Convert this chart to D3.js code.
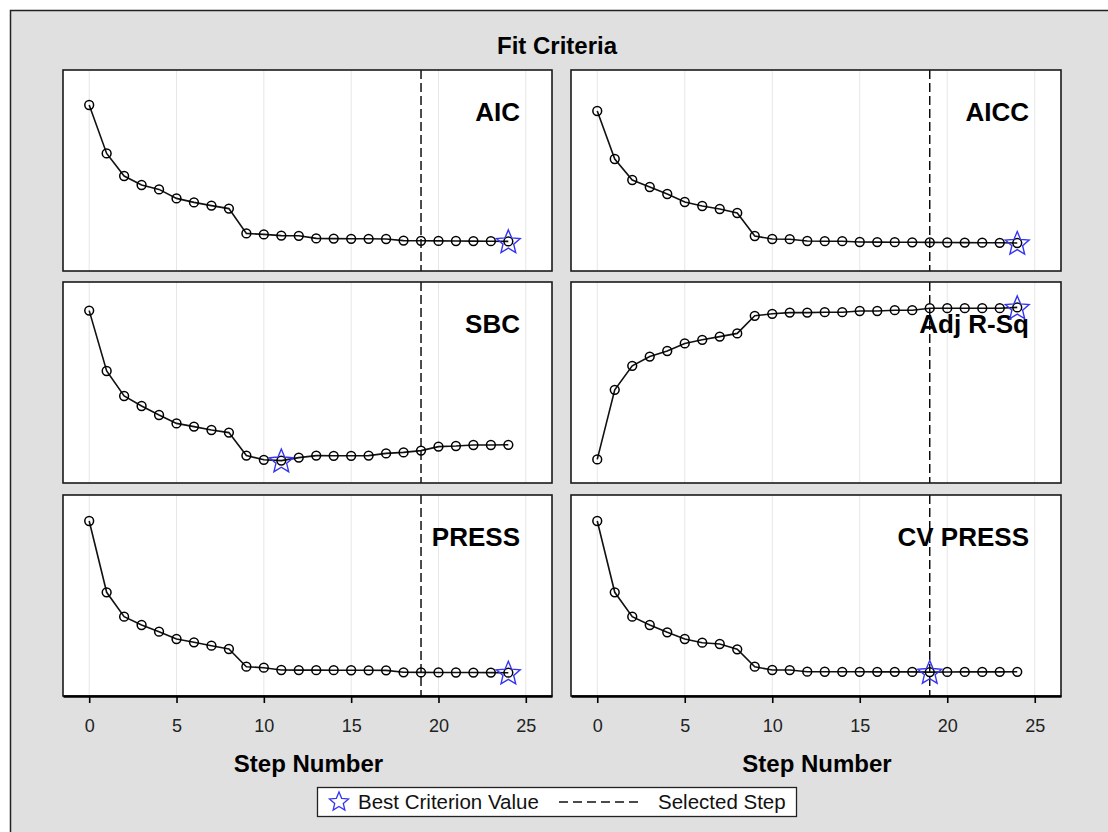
<!DOCTYPE html>
<html>
<head>
<meta charset="utf-8">
<script src="https://cdn.jsdelivr.net/npm/d3@7"></script>
<style>
  html, body { margin: 0; padding: 0; background: #ffffff; }
  svg { display: block; font-family: "Liberation Sans", Arial, sans-serif; }
</style>
</head>
<body>
<svg id="chart" width="1108" height="832"></svg>
<script>
// Step numbers 0..24
const steps = [0, 1, 2, 3, 4, 5, 6, 7, 8, 9, 10, 11, 12, 13, 14, 15, 16, 17, 18, 19, 20, 21, 22, 23, 24];

// Criterion values at each step
const aic = [1450, 1208, 1095, 1050, 1028, 983, 963, 947, 932, 808, 803, 797, 796, 783, 782, 781, 781, 780, 772, 771, 770.5, 770, 769.5, 769, 768];
const aicc = [1420, 1180, 1075, 1040, 1005, 965, 945, 930, 910, 795, 780, 779, 770, 769, 769, 765, 764.5, 764, 763.5, 763, 762.5, 762, 761.5, 761, 760];
const sbc = [1622, 1320, 1195, 1145, 1100, 1058, 1042, 1025, 1012, 897, 876, 872, 887, 897, 896, 896, 897, 908, 913, 922, 942, 945, 950, 950, 951];
const adjRsq = [0.559, 0.733, 0.793, 0.816, 0.830, 0.849, 0.858, 0.866, 0.874, 0.918, 0.923, 0.926, 0.926, 0.927, 0.927, 0.930, 0.930, 0.932, 0.932, 0.937, 0.937, 0.937, 0.937, 0.937, 0.939];
const press = [5500, 4074, 3586, 3420, 3286, 3140, 3074, 3006, 2940, 2586, 2566, 2520, 2518, 2517, 2516, 2515, 2514, 2513, 2474, 2472, 2471, 2470, 2469, 2468, 2466];
const cvPress = [5500, 4074, 3586, 3420, 3274, 3140, 3066, 3040, 2934, 2586, 2520, 2519, 2486, 2485, 2484, 2484, 2483, 2483, 2482, 2478, 2481, 2482, 2482, 2483, 2484];

// Panel names, in reading order, with their series and vertical axis ranges
const criterionNames = ["AIC", "AICC", "SBC", "Adj R-Sq", "PRESS", "CV PRESS"];
const criterionSeries = [aic, aicc, sbc, adjRsq, press, cvPress];
const criterionBetter = ["min", "min", "min", "max", "min", "min"];
const criterionRanges = [[620, 1625], [620, 1625], [760, 1765], [0.5, 1.0025], [2000, 6020], [2000, 6020]];

const selectedStep = 19;
const xTicks = [0, 5, 10, 15, 20, 25];
const xDomain = [-1.5, 26.5];

const titleText = "Fit Criteria";
const xLabel = "Step Number";
const legendLabels = ["Best Criterion Value", "Selected Step"];

// ---- layout ----
const svg = d3.select("#chart");
const W = 1108, H = 832;
const colX = [63, 571];
const colW = [489, 490];
const rowY = [70, 282, 495];
const panelH = 201;
const starColor = "#3434f4";

// background frame
svg.append("rect").attr("x", 0).attr("y", 0).attr("width", W).attr("height", H).attr("fill", "#ffffff");
svg.append("rect").attr("x", 10.5).attr("y", 10.5).attr("width", W + 10).attr("height", H + 10)
  .attr("fill", "#e0e0e0").attr("stroke", "#222").attr("stroke-width", 1.5);

svg.append("text").attr("x", 557).attr("y", 54).attr("text-anchor", "middle")
  .attr("font-size", 24).attr("font-weight", "bold").attr("fill", "#000").text(titleText);

// five-pointed star path centred on the origin
function starPath(R) {
  const r = R * 0.45;
  const pts = [];
  for (let i = 0; i < 10; i++) {
    const a = -Math.PI / 2 + i * Math.PI / 5;
    const rad = i % 2 === 0 ? R : r;
    pts.push([rad * Math.cos(a), rad * Math.sin(a)]);
  }
  return "M" + pts.map(p => p[0].toFixed(2) + "," + p[1].toFixed(2)).join("L") + "Z";
}

criterionNames.forEach((name, i) => {
  const col = i % 2, row = Math.floor(i / 2);
  const x0 = colX[col], y0 = rowY[row], w = colW[col];
  const values = criterionSeries[i];
  const x = d3.scaleLinear().domain(xDomain).range([x0, x0 + w]);
  const y = d3.scaleLinear().domain(criterionRanges[i]).range([y0 + panelH, y0]);

  const g = svg.append("g");
  g.append("rect").attr("x", x0).attr("y", y0).attr("width", w).attr("height", panelH).attr("fill", "#ffffff");

  // vertical grid lines
  g.selectAll("line.grid").data(xTicks).enter().append("line")
    .attr("x1", d => x(d)).attr("x2", d => x(d))
    .attr("y1", y0).attr("y2", y0 + panelH)
    .attr("stroke", "#e6e6e6").attr("stroke-width", 1);

  // panel label
  g.append("text").attr("x", x0 + w - 32).attr("y", y0 + 51)
    .attr("text-anchor", "end").attr("font-size", 26).attr("font-weight", "bold")
    .attr("fill", "#000").text(name);

  // selected step reference line
  g.append("line").attr("x1", x(selectedStep)).attr("x2", x(selectedStep))
    .attr("y1", y0).attr("y2", y0 + panelH)
    .attr("stroke", "#000").attr("stroke-width", 1.4).attr("stroke-dasharray", "9,4");

  const line = d3.line().x((d, k) => x(steps[k])).y(d => y(d));
  g.append("path").datum(values).attr("d", line)
    .attr("fill", "none").attr("stroke", "#111").attr("stroke-width", 1.6);

  g.selectAll("circle.pt").data(values).enter().append("circle")
    .attr("cx", (d, k) => x(steps[k])).attr("cy", d => y(d)).attr("r", 4.4)
    .attr("fill", "none").attr("stroke", "#000").attr("stroke-width", 1.5);

  // best value star
  const best = criterionBetter[i] === "min" ? d3.minIndex(values) : d3.maxIndex(values);
  g.append("path").attr("d", starPath(12.5))
    .attr("transform", `translate(${x(steps[best])},${y(values[best]) + 1})`)
    .attr("fill", "none").attr("stroke", starColor).attr("stroke-width", 1.4);

  // panel frame
  g.append("rect").attr("x", x0).attr("y", y0).attr("width", w).attr("height", panelH)
    .attr("fill", "none").attr("stroke", "#1a1a1a").attr("stroke-width", 1.6);

  if (row === 2) {
    const axis = d3.axisBottom(x).tickValues(xTicks).tickSize(7).tickPadding(16).tickSizeOuter(0);
    const ag = g.append("g").attr("transform", `translate(0,${y0 + panelH})`).call(axis);
    ag.select(".domain").attr("stroke", "#000").attr("stroke-width", 2.6);
    ag.selectAll(".tick line").attr("stroke", "#000").attr("stroke-width", 1.6);
    ag.selectAll(".tick text").attr("font-size", 18).attr("fill", "#222")
      .attr("font-family", "Liberation Sans, Arial, sans-serif");
    g.append("text").attr("x", x0 + w / 2 + 1).attr("y", 772).attr("text-anchor", "middle")
      .attr("font-size", 24).attr("font-weight", "bold").attr("fill", "#000").text(xLabel);
  }
});

// legend
const lg = svg.append("g");
lg.append("rect").attr("x", 317.5).attr("y", 787.5).attr("width", 479).attr("height", 29)
  .attr("fill", "#ffffff").attr("stroke", "#222").attr("stroke-width", 1.3);
lg.append("path").attr("d", starPath(10)).attr("transform", "translate(339,802)")
  .attr("fill", "none").attr("stroke", starColor).attr("stroke-width", 1.3);
lg.append("text").attr("x", 358).attr("y", 809).attr("font-size", 20.5).attr("fill", "#111").text(legendLabels[0]);
lg.append("line").attr("x1", 559).attr("x2", 642).attr("y1", 802).attr("y2", 802)
  .attr("stroke", "#111").attr("stroke-width", 1.4).attr("stroke-dasharray", "9,5");
lg.append("text").attr("x", 658).attr("y", 809).attr("font-size", 20.5).attr("fill", "#111").text(legendLabels[1]);
</script>
</body>
</html>
